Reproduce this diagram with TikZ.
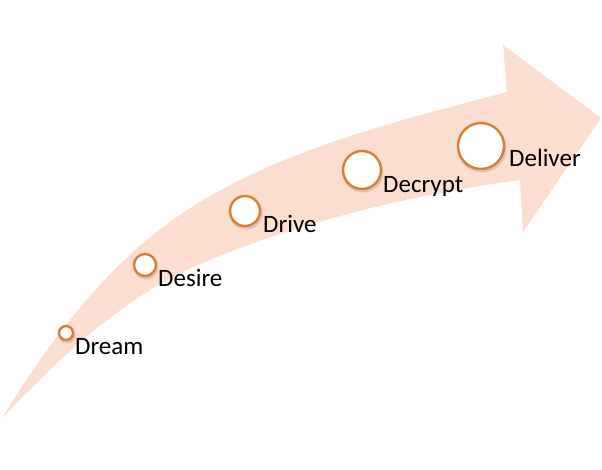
\documentclass[tikz,border=0pt]{standalone}
\usepackage{fontspec}
\setmainfont{Carlito}
\definecolor{bandfill}{RGB}{251,222,208}
\definecolor{ringorange}{RGB}{222,124,52}
\tikzset{
  ring/.style={circle, draw=ringorange, line width=2.4pt, fill=white, inner sep=0pt, minimum size=#1},
  stagelabel/.style={anchor=base west, inner sep=0pt, font=\fontsize{25}{30}\selectfont, text=black},
}
\begin{document}
\begin{tikzpicture}[x=1pt,y=-1pt]
\useasboundingbox (0,0) rectangle (602,469);
% curved arrow band
\fill[bandfill] (2,418) .. controls (53,335) and (116,252) .. (200,202)
  .. controls (293,146) and (402,120) .. (507,92)
  -- (503,45) -- (601,118) -- (523,232) -- (520,180)
  .. controls (411,195) and (301,221) .. (200,264)
  .. controls (123,297) and (60,357.5) .. (2,418) -- cycle;
% shadows
\foreach \cx/\cy/\d in {66/333/14, 145/265/22, 245/211/30, 362/170/38, 481/146/46}
  \fill[black, opacity=0.12] (\cx+1,\cy+2) circle ({\d/2+1.5});
% rings
\node[ring=14pt] (c1) at (66,333) {};
\node[ring=22pt] (c2) at (145,265) {};
\node[ring=30pt] (c3) at (245,211) {};
\node[ring=38pt] (c4) at (362,170) {};
\node[ring=46pt] (c5) at (481,146) {};
% labels
\node[stagelabel] (l1) at (75,354) {Dream};
\node[stagelabel] (l2) at (158,286) {Desire};
\node[stagelabel] (l3) at (263,232) {Drive};
\node[stagelabel] (l4) at (383,192) {Decrypt};
\node[stagelabel] (l5) at (509,166) {Deliver};
\end{tikzpicture}
\end{document}
